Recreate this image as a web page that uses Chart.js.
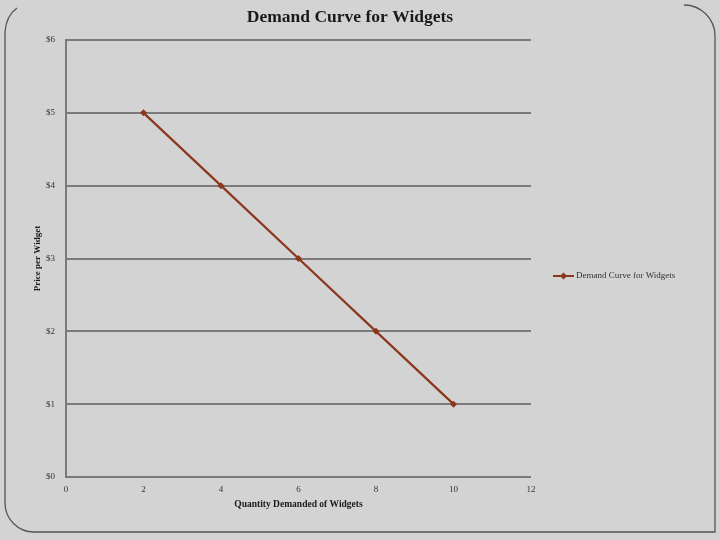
<!DOCTYPE html>
<html lang="en">
<head>
    <meta charset="UTF-8">
    <title>Demand Curve for Widgets</title>
    <style>
        html, body { margin: 0; padding: 0; background: #d3d3d3; }
        #wrap { width: 720px; height: 540px; }
    </style>
</head>
<body>
    <div id="wrap"><canvas id="myChart" width="720" height="540"></canvas></div>
    <script src="https://cdn.jsdelivr.net/npm/chart.js"></script>
    <script>
        // data
        const chartTitle = 'Demand Curve for Widgets';
        const seriesName = 'Demand Curve for Widgets';
        const quantities = [2, 4, 6, 8, 10];
        const prices = [5, 4, 3, 2, 1];
        const xTitle = 'Quantity Demanded of Widgets';
        const yTitle = 'Price per Widget';

        const serif = "'Liberation Serif', 'DejaVu Serif', serif";
        const lineColor = '#8c361c';
        const gridColor = '#7a7a7a';

        // background, rounded frame, title and legend
        const frame = {
            id: 'frame',
            beforeDraw(chart) {
                const ctx = chart.ctx;
                ctx.save();
                ctx.fillStyle = '#d3d3d3';
                ctx.fillRect(0, 0, chart.width, chart.height);
                ctx.strokeStyle = '#555';
                ctx.lineWidth = 1.3;
                ctx.beginPath();
                ctx.moveTo(17, 8);
                ctx.quadraticCurveTo(6, 16, 5, 32);
                ctx.lineTo(5, 503);
                ctx.arcTo(5, 532, 34, 532, 29);
                ctx.lineTo(715, 532);
                ctx.lineTo(715, 36);
                ctx.arcTo(715, 5, 684, 5, 31);
                ctx.stroke();
                ctx.restore();
            },
            afterDraw(chart) {
                const ctx = chart.ctx;
                ctx.save();
                ctx.fillStyle = '#1a1a1a';
                ctx.font = 'bold 17.5px ' + serif;
                ctx.textAlign = 'center';
                ctx.textBaseline = 'middle';
                ctx.fillText(chartTitle, 350, 17);

                // legend
                const ly = 276;
                ctx.strokeStyle = lineColor;
                ctx.lineWidth = 2;
                ctx.beginPath();
                ctx.moveTo(553, ly);
                ctx.lineTo(574, ly);
                ctx.stroke();
                ctx.fillStyle = lineColor;
                ctx.beginPath();
                ctx.moveTo(563.5, ly - 3.5);
                ctx.lineTo(567, ly);
                ctx.lineTo(563.5, ly + 3.5);
                ctx.lineTo(560, ly);
                ctx.closePath();
                ctx.fill();
                ctx.fillStyle = '#333';
                ctx.font = '9px ' + serif;
                ctx.textAlign = 'left';
                ctx.fillText(seriesName, 576, ly);
                ctx.restore();
            }
        };

        const data = {
            datasets: [{
                label: seriesName,
                data: quantities.map((q, i) => ({ x: q, y: prices[i] })),
                showLine: true,
                borderColor: lineColor,
                backgroundColor: lineColor,
                borderWidth: 2.2,
                pointStyle: 'rectRot',
                pointRadius: 3.5,
                pointBorderWidth: 0
            }]
        };

        const config = {
            type: 'scatter',
            data,
            options: {
                responsive: false,
                animation: false,
                layout: { padding: { top: 40, left: 28, right: 189, bottom: 30 } },
                plugins: {
                    legend: { display: false },
                    title: { display: false },
                    tooltip: { enabled: false }
                },
                scales: {
                    x: {
                        type: 'linear',
                        min: 0,
                        max: 12,
                        afterFit: s => { s.height = 33; },
                        grid: { display: false, drawTicks: false },
                        border: { display: false },
                        ticks: {
                            stepSize: 2,
                            padding: 7,
                            color: '#333',
                            font: { family: serif, size: 9 }
                        },
                        title: {
                            display: true,
                            text: xTitle,
                            color: '#1a1a1a',
                            padding: 0,
                            font: { family: serif, size: 9.5, weight: 'bold' }
                        }
                    },
                    y: {
                        min: 0,
                        max: 6,
                        afterFit: s => { s.width = 38; },
                        grid: { color: gridColor, lineWidth: 2, drawTicks: false },
                        border: { display: true, color: gridColor, width: 2 },
                        ticks: {
                            stepSize: 1,
                            padding: 11,
                            color: '#333',
                            font: { family: serif, size: 9 },
                            callback: v => '$' + v
                        },
                        title: {
                            display: true,
                            text: yTitle,
                            color: '#1a1a1a',
                            padding: { top: 4, bottom: 0 },
                            font: { family: serif, size: 9, weight: 'bold' }
                        }
                    }
                }
            },
            plugins: [frame]
        };

        const myChart = new Chart(document.getElementById('myChart'), config);
    </script>
</body>
</html>
